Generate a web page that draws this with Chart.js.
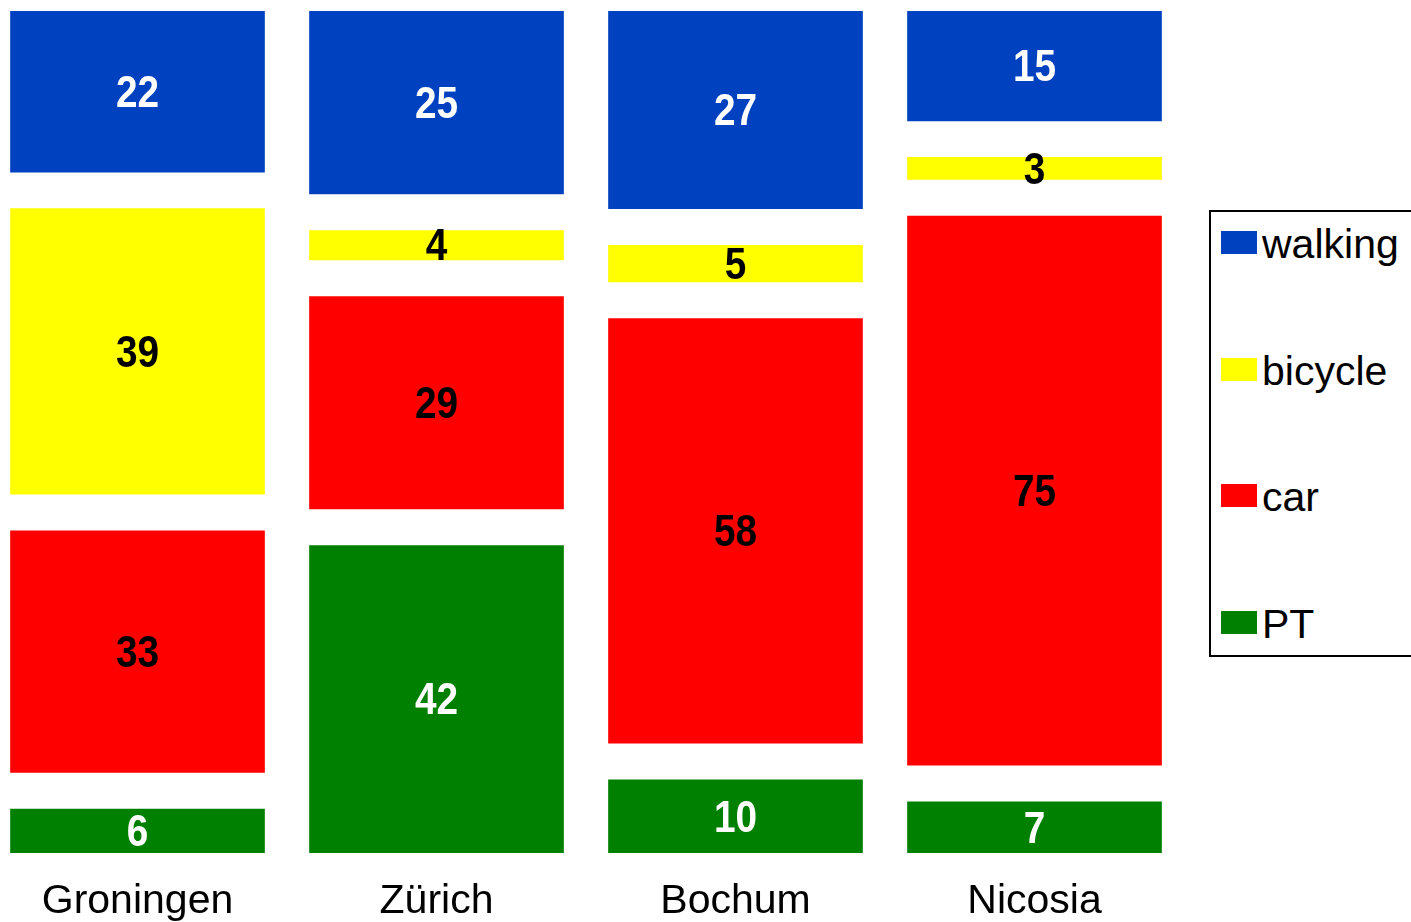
<!DOCTYPE html>
<html>
<head>
<meta charset="utf-8">
<script src="https://cdn.jsdelivr.net/npm/chart.js@4/dist/chart.umd.min.js"></script>
<style>
  html, body { margin: 0; padding: 0; background: #fff; width: 1411px; height: 922px; overflow: hidden; position: relative; font-family: "Liberation Sans", Arial, sans-serif; }
  #c { position: absolute; left: -12px; top: 0; }
  #legend { position: absolute; left: 1209px; top: 210px; width: 220px; height: 447px; border: 2px solid #000; box-sizing: border-box; }
  .item { position: absolute; left: 10px; height: 46px; line-height: 46px; font-size: 41px; color: #000; white-space: nowrap; }
  .item span.sw { position: absolute; left: 0; top: 10px; width: 36px; height: 23px; }
  .item span.tx { position: absolute; left: 41px; top: 0; }
</style>
</head>
<body>
<canvas id="c" width="1196" height="922"></canvas>
<div id="legend"></div>
<script>
const categories = ["Groningen", "Zürich", "Bochum", "Nicosia"];
const walking = [22, 25, 27, 15];
const bicycle = [39, 4, 5, 3];
const car = [33, 29, 58, 75];
const pt = [6, 42, 10, 7];
const gap = [5, 5, 5, 5];
const seriesNames = ["walking", "bicycle", "car", "PT"];
const colors = { walking: "#0041BF", bicycle: "#FFFF00", car: "#FF0000", PT: "#008000" };
const labelColors = { walking: "#FFFFFF", bicycle: "#000000", car: "#000000", PT: "#FFFFFF" };

function ds(label, data, color, isGap) {
  return { label, data, backgroundColor: color, borderWidth: 0, barThickness: 254, isGap: !!isGap };
}

const datasets = [
  ds("PT", pt, colors.PT),
  ds("", gap, "rgba(0,0,0,0)", true),
  ds("car", car, colors.car),
  ds("", gap, "rgba(0,0,0,0)", true),
  ds("bicycle", bicycle, colors.bicycle),
  ds("", gap, "rgba(0,0,0,0)", true),
  ds("walking", walking, colors.walking)
];

const valueLabels = {
  id: "valueLabels",
  afterDatasetsDraw(chart) {
    const ctx = chart.ctx;
    chart.data.datasets.forEach((d, i) => {
      if (d.isGap) return;
      const meta = chart.getDatasetMeta(i);
      meta.data.forEach((el, j) => {
        const cy = (el.y + el.base) / 2 + 3;
        ctx.save();
        ctx.translate(el.x, cy);
        ctx.scale(0.97, 1.1);
        ctx.font = "bold 40px 'Liberation Sans', Arial, sans-serif";
        ctx.fillStyle = labelColors[d.label];
        ctx.textAlign = "center";
        ctx.textBaseline = "middle";
        ctx.fillText(String(d.data[j]), 0, 0);
        ctx.restore();
      });
    });
  }
};

new Chart(document.getElementById("c"), {
  type: "bar",
  data: { labels: categories, datasets },
  options: {
    responsive: false,
    animation: false,
    layout: { padding: { top: 11, left: 0, right: 0, bottom: 0 } },
    plugins: { legend: { display: false }, tooltip: { enabled: false } },
    scales: {
      x: {
        stacked: true,
        grid: { display: false, drawTicks: false },
        border: { display: false },
        ticks: { color: "#000", font: { size: 41, family: "'Liberation Sans', Arial, sans-serif" }, padding: 24, maxRotation: 0, autoSkip: false },
        afterFit(s) { s.height = 69; }
      },
      y: { stacked: true, display: false, min: 0, max: 115 }
    }
  },
  plugins: [valueLabels]
});

const legend = document.getElementById("legend");
seriesNames.forEach((n, i) => {
  const it = document.createElement("div");
  it.className = "item";
  it.style.top = (9 + i * 126.7) + "px";
  it.innerHTML = '<span class="sw" style="background:' + colors[n] + '"></span><span class="tx">' + n + '</span>';
  legend.appendChild(it);
});
</script>
</body>
</html>
